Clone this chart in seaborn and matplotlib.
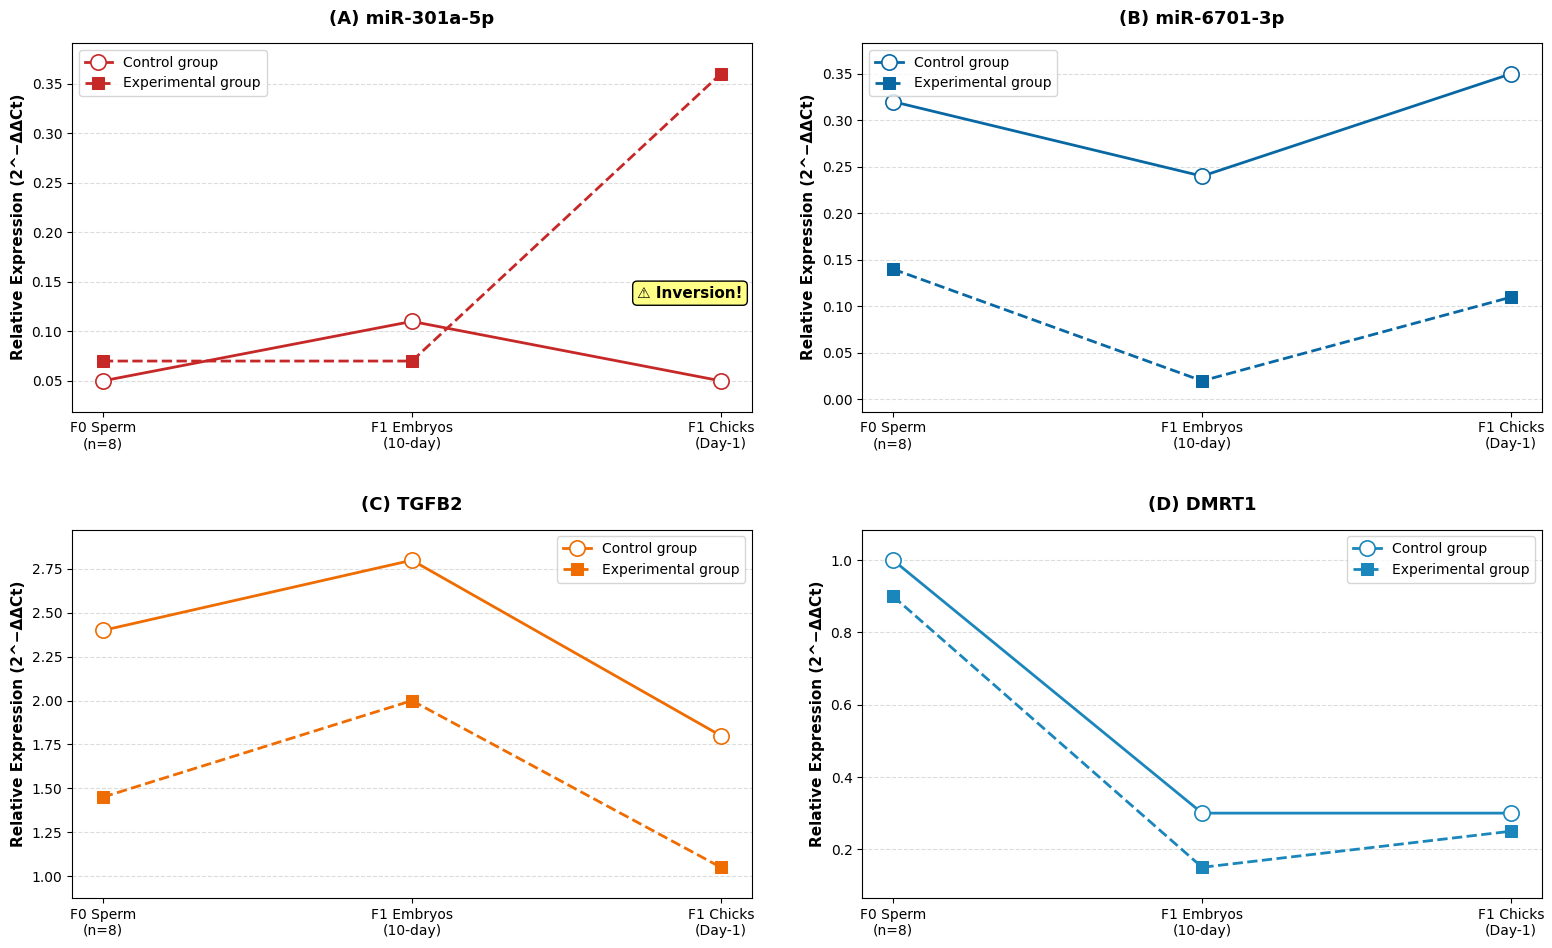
import numpy as np
import pandas as pd
import seaborn as sns
import matplotlib.pyplot as plt

stages = ['F0 Sperm\n(n=8)', 'F1 Embryos\n(10-day)', 'F1 Chicks\n(Day-1)']
titles = ['(A) miR-301a-5p', '(B) miR-6701-3p', '(C) TGFB2', '(D) DMRT1']
colors = ['#c62828', '#0868a4', '#ef6c00', '#1a86bb']

control = [
    [0.05, 0.11, 0.05],
    [0.32, 0.24, 0.35],
    [2.40, 2.80, 1.80],
    [1.00, 0.30, 0.30],
]
experimental = [
    [0.07, 0.07, 0.36],
    [0.14, 0.02, 0.11],
    [1.45, 2.00, 1.05],
    [0.90, 0.15, 0.25],
]
legend_loc = ['upper left', 'upper left', 'upper right', 'upper right']

fig, axes = plt.subplots(2, 2, figsize=(15.52, 9.48), dpi=100)
fig.subplots_adjust(left=0.0464, right=0.9936, top=0.9546, bottom=0.0527,
                    hspace=0.32, wspace=0.1625)

x = np.arange(len(stages))

for i, ax in enumerate(axes.flat):
    c = colors[i]
    sns.lineplot(x=x, y=control[i], ax=ax, color=c, linewidth=2,
                 marker='o', markersize=11, markerfacecolor='white',
                 markeredgecolor=c, markeredgewidth=1.2, label='Control group')
    sns.lineplot(x=x, y=experimental[i], ax=ax, color=c, linewidth=2,
                 linestyle='--', marker='s', markersize=9,
                 markerfacecolor=c, markeredgecolor=c,
                 label='Experimental group')

    # 10% padding around the data on y
    lo = min(min(control[i]), min(experimental[i]))
    hi = max(max(control[i]), max(experimental[i]))
    pad = (hi - lo) * 0.1
    ax.set_ylim(lo - pad, hi + pad)
    ax.set_xlim(-0.1, len(stages) - 0.9)

    ax.set_xticks(x)
    ax.set_xticklabels(stages, fontsize=10)
    ax.tick_params(axis='y', labelsize=10)
    ax.set_title(titles[i], fontsize=13, fontweight='bold', pad=14)
    ax.set_ylabel('Relative Expression (2^\u2212\u0394\u0394Ct)',
                  fontsize=11, fontweight='bold')
    ax.set_xlabel('')
    ax.grid(axis='y', linestyle='--', alpha=0.5, color='#bbbbbb')
    ax.set_axisbelow(True)
    ax.legend(loc=legend_loc[i], fontsize=10)

# highlight the crossover in panel A
axes[0, 0].text(1.9, 0.1385, '\u26a0 Inversion!', fontsize=11, fontweight='bold',
                ha='center', va='center',
                bbox=dict(boxstyle='round,pad=0.3', facecolor='#ffff88',
                          edgecolor='black'))

plt.savefig('out.png', dpi=100)
